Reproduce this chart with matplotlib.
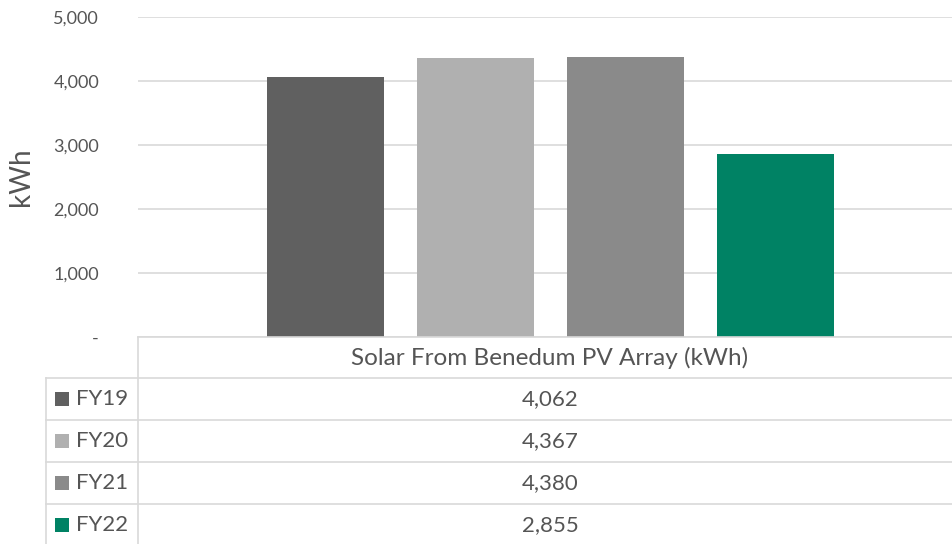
import matplotlib.pyplot as plt
from matplotlib.lines import Line2D
from matplotlib.patches import Rectangle
from matplotlib.ticker import FuncFormatter

plt.rcParams['font.family'] = ['Lato', 'DejaVu Sans']

series = ['FY19', 'FY20', 'FY21', 'FY22']
values = [4062, 4367, 4380, 2855]
colors = ['#606060', '#b0b0b0', '#8a8a8a', '#008264']
category = 'Solar From Benedum PV Array (kWh)'
yticks = [0, 1000, 2000, 3000, 4000, 5000]

W, H = 953, 544
text_col = '#555555'
grid_col = '#d9d9d9'

fig = plt.figure(figsize=(W / 100, H / 100), dpi=100)


def fx(px):
    return px / W


def fy(py):
    return 1 - py / H


# plot area in pixels
left, right, top, bottom = 138, 953, 17, 337
ax = fig.add_axes([fx(left), fy(bottom), fx(right - left), (bottom - top) / H])

pos = list(range(len(series)))
ax.bar(pos, values, width=0.78, color=colors, zorder=3)
ax.set_xlim(-1.25, 4.183)
ax.set_ylim(0, 5000)
ax.set_yticks(yticks)
ax.yaxis.set_major_formatter(FuncFormatter(lambda v, p: '-' if v == 0 else f'{int(v):,}'))
ax.tick_params(axis='y', length=0, pad=28, labelsize=13, labelcolor=text_col)
ax.set_xticks([])
ax.grid(axis='y', color=grid_col, linewidth=1.2, zorder=0)
for s in ax.spines.values():
    s.set_visible(False)
ax.set_ylabel('kWh', fontsize=20, color=text_col, labelpad=14)

# data table below the chart
row_h = 42
header_bottom = 378
table_left = 46
lines = []
# vertical line between legend column and values
lines.append(((left, left), (bottom, H)))
lines.append(((table_left, table_left), (header_bottom, H)))
lines.append(((left, right), (bottom, bottom)))
for i in range(len(series)):
    yline = header_bottom + i * row_h
    lines.append(((table_left, right), (yline, yline)))
for xs, ys in lines:
    fig.add_artist(Line2D([fx(x) for x in xs], [fy(y) for y in ys],
                          color=grid_col, linewidth=1.2))

col_center = 550
fig.text(fx(col_center), fy((bottom + header_bottom) / 2), category,
         ha='center', va='center', fontsize=17.5, color=text_col)

for i, (name, val, c) in enumerate(zip(series, values, colors)):
    yc = header_bottom + i * row_h + row_h / 2
    fig.add_artist(Rectangle((fx(55), fy(yc + 7)), fx(14), 14 / H,
                             facecolor=c, edgecolor='none'))
    fig.text(fx(76), fy(yc), name, ha='left', va='center',
             fontsize=16, color=text_col)
    fig.text(fx(col_center), fy(yc), f'{val:,}', ha='center', va='center',
             fontsize=16, color=text_col)

fig.savefig('out.png', dpi=100, facecolor='white')
